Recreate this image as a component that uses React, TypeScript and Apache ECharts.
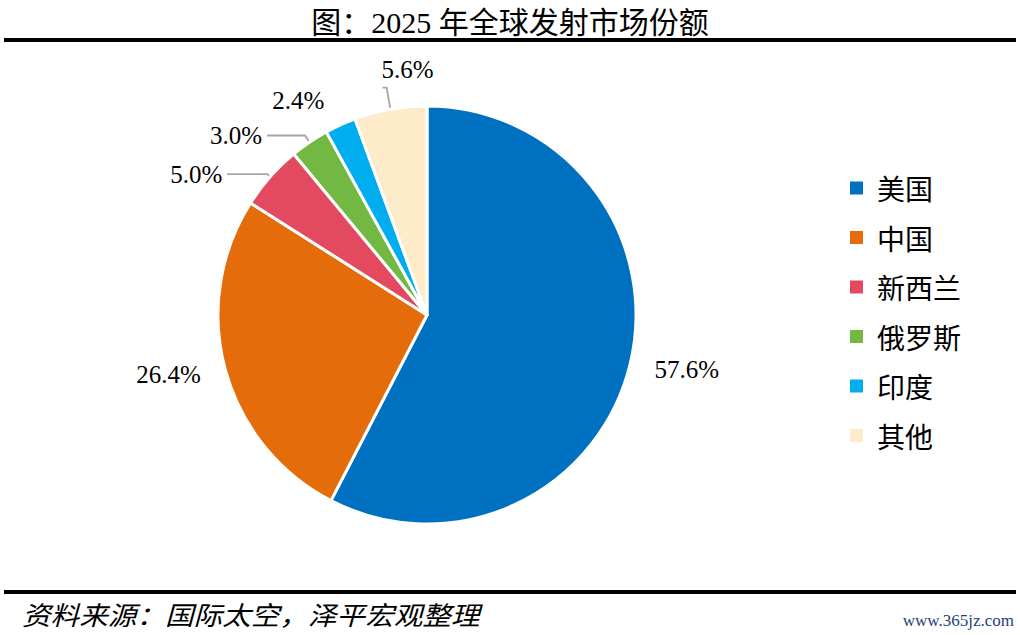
import React, { useEffect, useRef } from "react";
import * as echarts from "echarts";

const categories = ["美国", "中国", "新西兰", "俄罗斯", "印度", "其他"];
const shares = [57.6, 26.4, 5.0, 3.0, 2.4, 5.6];
const colors = ["#0070C0", "#E46C0A", "#E34A5F", "#72B843", "#00AEEF", "#FDEBC9"];
const titleText = "图：2025 年全球发射市场份额";
const sourceText = "资料来源：国际太空，泽平宏观整理";
const watermark = "www.365jz.com";

// label guide styling per slice
const lineLen = [20, 20, 4, 8, 27, 22];
const lineLen2 = [0, 0, 40, 38, 0, 4];
const lineShow = [false, false, true, true, false, true];

const SERIF = "'Liberation Serif', 'Noto Sans CJK SC', serif";
const CJK = "'Noto Sans CJK SC', sans-serif";

export default function App() {
  const ref = useRef<HTMLDivElement>(null);
  useEffect(() => {
    if (!ref.current) return;
    const chart = echarts.init(ref.current, undefined, { renderer: "svg" });
    const data = categories.map((name, i) => ({
      name,
      value: shares[i],
      itemStyle: { color: colors[i] },
      labelLine: { show: lineShow[i], length: lineLen[i], length2: lineLen2[i] },
    }));
    chart.setOption({
      animation: false,
      backgroundColor: "#ffffff",
      title: {
        text: titleText,
        left: "center",
        top: 2,
        textStyle: { fontFamily: SERIF, fontSize: 30, fontWeight: "normal", color: "#000" },
      },
      legend: {
        orient: "vertical",
        left: 843,
        top: 169,
        icon: "rect",
        itemWidth: 15,
        itemHeight: 15,
        itemGap: 21.5,
        data: categories,
        textStyle: {
          fontFamily: CJK,
          fontSize: 28,
          color: "#000",
          padding: [0, 0, 0, 8],
        },
      },
      graphic: [
        { type: "line", shape: { x1: 4, y1: 40, x2: 1016, y2: 40 }, style: { stroke: "#000", lineWidth: 4 } },
        { type: "line", shape: { x1: 4, y1: 592, x2: 1016, y2: 592 }, style: { stroke: "#000", lineWidth: 4 } },
        {
          type: "text",
          x: 22,
          y: 614,
          scaleX: 1.1,
          style: {
            text: sourceText,
            fontFamily: CJK,
            fontStyle: "italic",
            fontSize: 26,
            fill: "#000",
            verticalAlign: "middle",
          },
        },
        {
          type: "text",
          x: 1014,
          y: 620,
          style: {
            text: watermark,
            fontFamily: SERIF,
            fontSize: 17,
            fill: "#1F3F7A",
            align: "right",
            verticalAlign: "middle",
          },
        },
      ],
      series: [
        {
          type: "pie",
          center: [427, 315],
          radius: [0, 209],
          startAngle: 90,
          clockwise: true,
          avoidLabelOverlap: false,
          itemStyle: { borderColor: "#fff", borderWidth: 3 },
          label: {
            show: true,
            position: "outside",
            fontFamily: SERIF,
            fontSize: 25,
            color: "#000",
            distanceToLabelLine: 5,
            formatter: (p: any) => Number(p.value).toFixed(1) + "%",
          },
          labelLine: { lineStyle: { color: "#A6A6A6", width: 1.8 } },
          labelLayout: (p: any) => (p.dataIndex === 5 ? { dx: 56, dy: -18 } : undefined),
          emphasis: { disabled: true },
          data,
        },
      ],
    });
    return () => chart.dispose();
  }, []);
  return (
    <div
      ref={ref}
      style={{ position: "fixed", left: 0, top: 0, width: 1020, height: 635, background: "#fff" }}
    />
  );
}
